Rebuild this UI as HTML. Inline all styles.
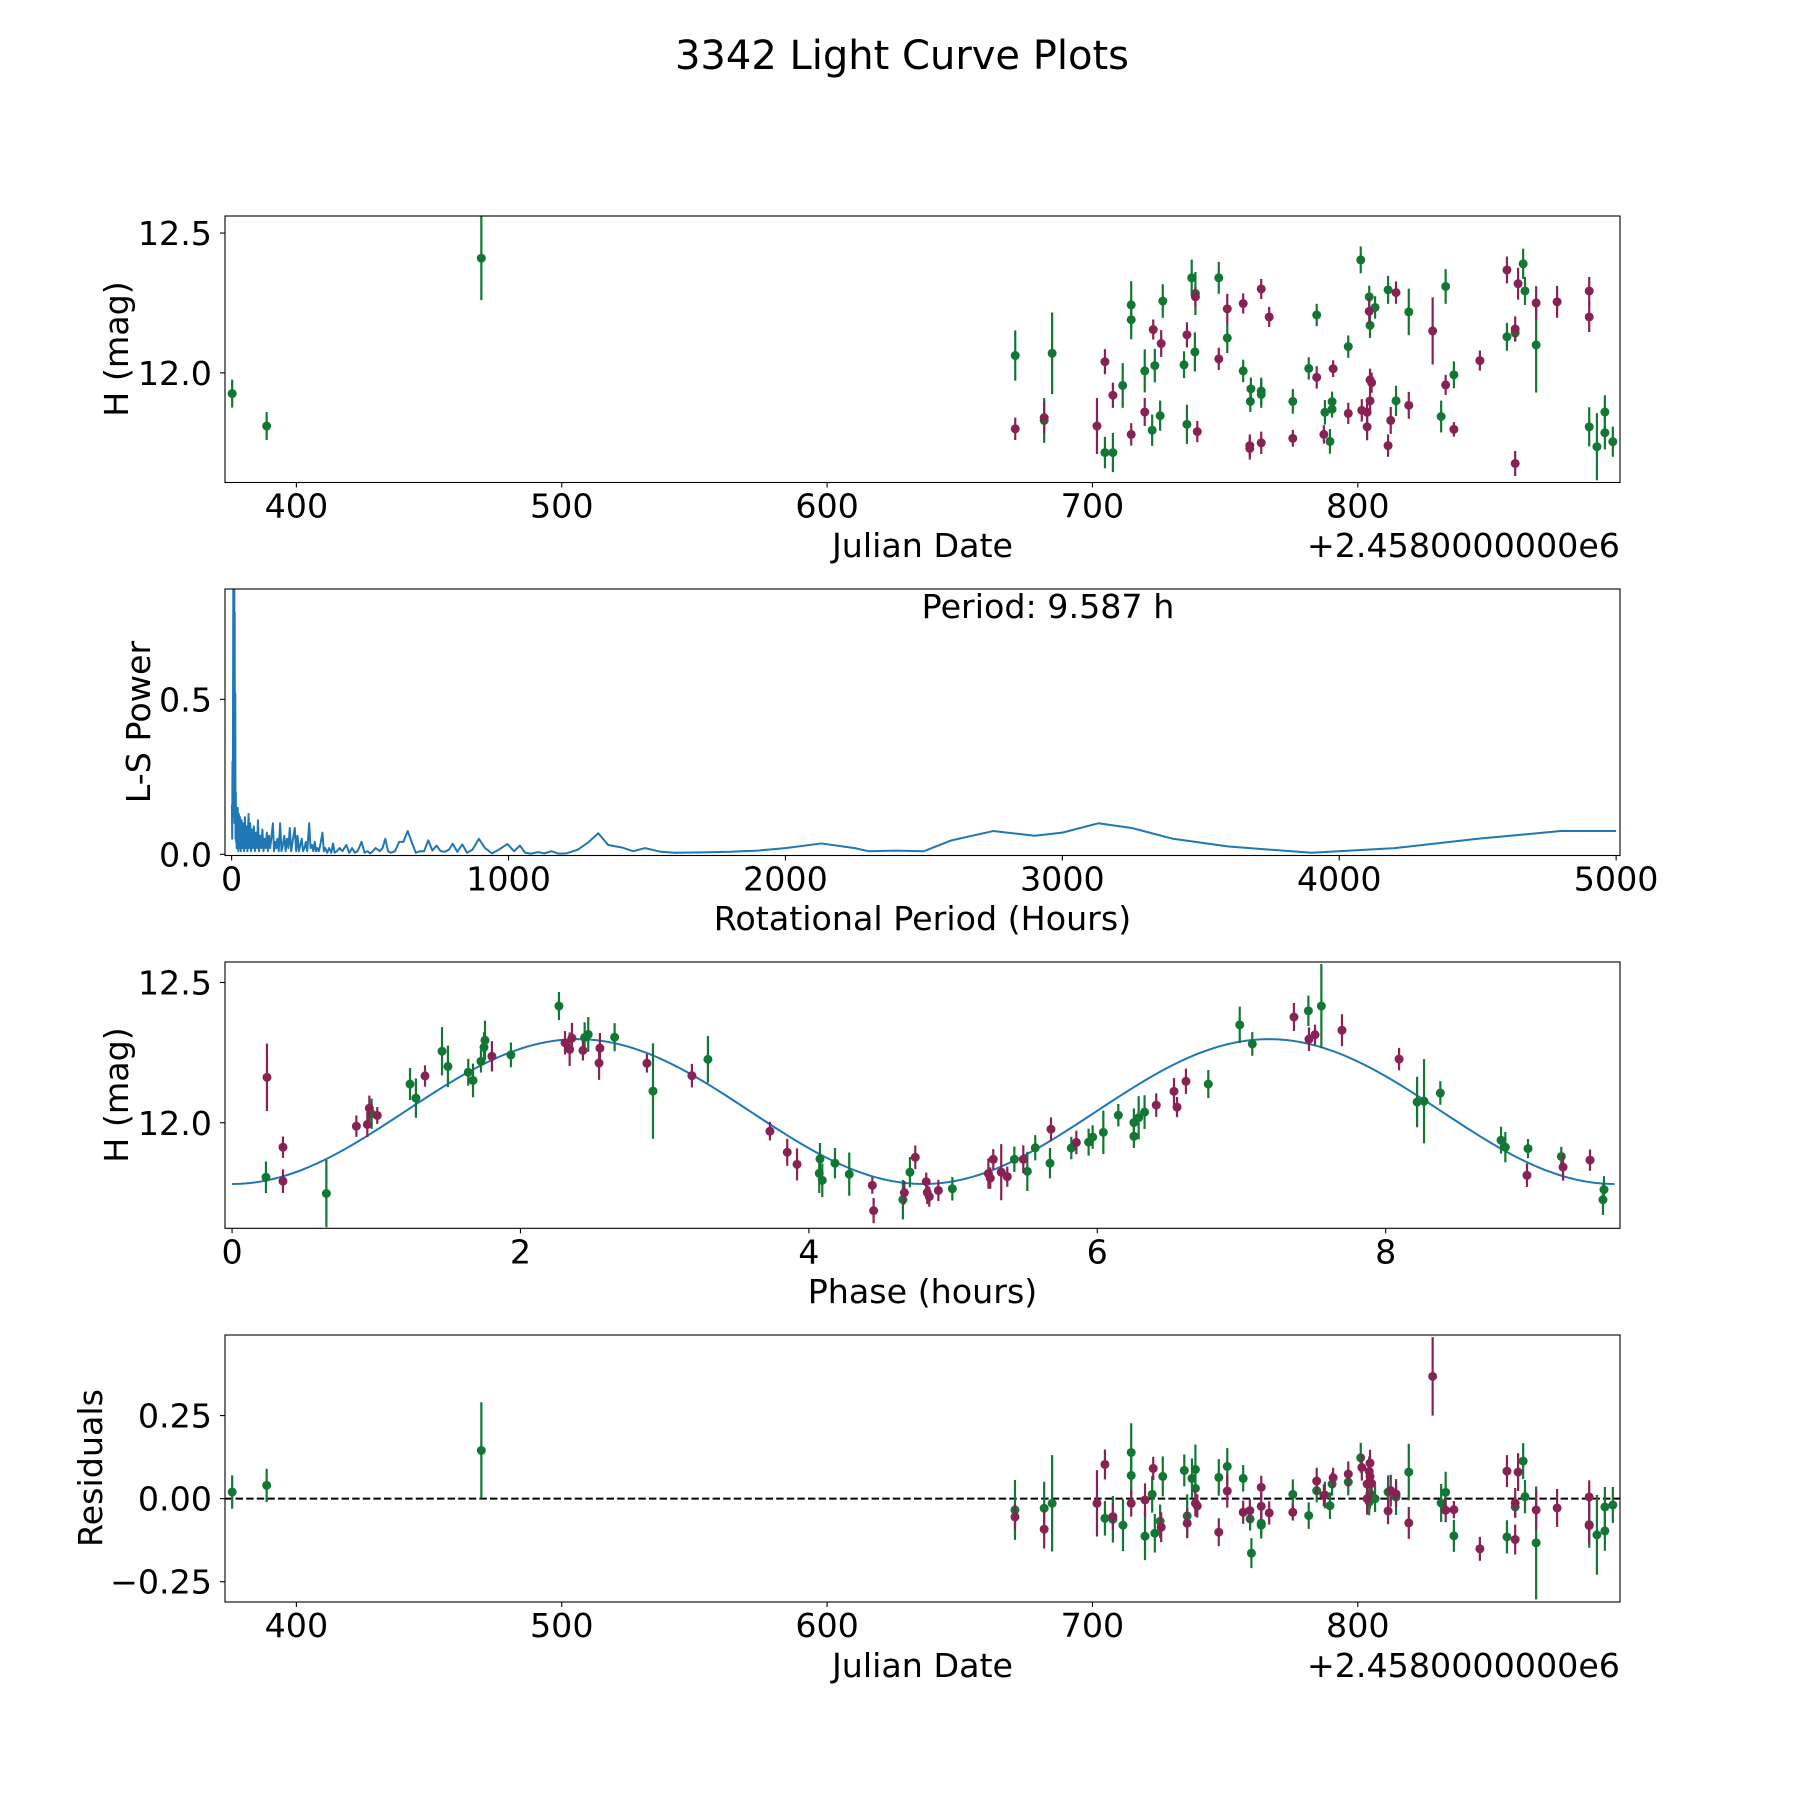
<!DOCTYPE html>
<html><head><meta charset="utf-8"><style>
html,body{margin:0;padding:0;background:#fff;}
svg{display:block;font-family:"DejaVu Sans","Liberation Sans",sans-serif;}
</style></head><body>
<svg id="fig" width="1800" height="1800" viewBox="0 0 1800 1800" xmlns="http://www.w3.org/2000/svg">
<rect x="0" y="0" width="1800" height="1800" fill="#fff"/>
<text x="902" y="69" font-size="40" text-anchor="middle">3342 Light Curve Plots</text>
</svg>
<script>
// ---------- DATA ----------
const lcGreen = [[375.8,11.926,0.05],[388.8,11.81,0.05],[469.7,12.41,0.15],[670.9,12.062,0.09],[681.8,11.83,0.08],[684.8,12.07,0.146],[704.7,11.715,0.056],[707.7,11.715,0.07],[711.4,11.955,0.08],[714.6,12.243,0.085],[714.6,12.19,0.07],[719.7,12.007,0.077],[722.5,11.795,0.056],[723.5,12.026,0.06],[725.5,11.847,0.054],[726.5,12.257,0.06],[734.5,12.029,0.048],[735.6,11.816,0.07],[737.4,12.34,0.065],[738.8,12.284,0.077],[738.6,12.075,0.07],[747.6,12.34,0.057],[750.8,12.125,0.054],[756.8,12.007,0.04],[759.7,11.943,0.04],[759.5,11.898,0.038],[763.6,11.935,0.048],[763.6,11.923,0.048],[775.5,11.898,0.044],[781.5,12.016,0.04],[784.5,12.207,0.04],[787.6,11.859,0.044],[789.5,11.755,0.044],[790.3,11.897,0.036],[790.3,11.87,0.03],[796.4,12.094,0.04],[801.1,12.404,0.048],[804.3,12.272,0.04],[804.6,12.17,0.045],[806.5,12.234,0.04],[811.4,12.297,0.05],[814.4,11.90,0.054],[819.2,12.218,0.083],[831.4,11.844,0.057],[833.1,12.309,0.062],[836.2,11.993,0.048],[856.2,12.129,0.05],[859.3,12.143,0.03],[862.3,12.39,0.054],[863.0,12.293,0.05],[867.2,12.10,0.17],[887.2,11.807,0.07],[890.1,11.736,0.12],[893.1,11.86,0.06],[893.1,11.786,0.06],[896.1,11.754,0.054]];
const lcMagenta = [[670.9,11.80,0.04],[681.8,11.84,0.057],[701.7,11.81,0.1],[704.7,12.04,0.045],[707.7,11.92,0.045],[714.6,11.78,0.04],[719.7,11.86,0.05],[722.9,12.155,0.036],[725.9,12.105,0.048],[735.6,12.136,0.045],[739.5,11.79,0.038],[738.8,12.272,0.036],[747.6,12.05,0.04],[750.8,12.229,0.054],[756.8,12.248,0.036],[759.3,11.73,0.04],[759.3,11.74,0.04],[763.6,12.30,0.036],[763.6,11.75,0.04],[766.6,12.20,0.036],[775.5,11.766,0.03],[784.5,11.984,0.04],[787.2,11.78,0.033],[790.7,12.015,0.03],[796.4,11.855,0.038],[801.5,11.866,0.04],[803.5,11.859,0.04],[803.5,11.807,0.048],[804.3,12.22,0.045],[804.6,11.975,0.04],[805.2,11.965,0.036],[804.6,11.90,0.04],[811.4,11.74,0.04],[812.4,11.83,0.048],[814.4,12.287,0.04],[819.2,11.884,0.048],[828.2,12.15,0.12],[833.1,11.957,0.036],[836.2,11.798,0.026],[846.0,12.044,0.036],[856.2,12.368,0.048],[859.3,12.157,0.045],[859.3,11.676,0.045],[860.4,12.319,0.057],[867.2,12.25,0.06],[875.1,12.254,0.057],[887.2,12.293,0.05],[887.2,12.20,0.054]];

const lsPeriod = [
1,2,3,4,5,6,7,8,9,9.587,
10.5,11,12,13,14,15,16,17,18,19,
20,22,24,26,28,30,33,36,39,42,
45,48,51,54,57,61,64,67,70,73,
76,80,84,88,92,95,99,103,107,111,
115,119,123,127,131,135,139,143,149,153,
157,161,165,170,175,180,185,190,195,200,
205,210,215,220,228,233,238,243,248,253,
258,263,268,273,280,285,290,295,300,305,
310,315,320,328,333,338,345,352,360,366,
372,380,390,400,414,425,435,445,455,469,
480,490,500,510,520,535,545,555,565,575,
590,605,620,636,650,665,680,695,710,725,
740,755,770,785,798,815,833,850,870,893,
915,940,965,996,1020,1041,1060,1080,1107,1130,
1155,1180,1210,1250,1290,1324,1360,1409,1450,1493,
1550,1600,1700,1800,1900,2000,2130,2250,2300,2400,
2500,2600,2750,2900,3000,3130,3250,3400,3600,3900,
4200,4500,4800,5000];
const lsPower = [
0.16,0.05,0.3,0.1,0.45,0.9,0.12,0.6,0.3,0.95,
0.2,0.78,0.1,0.52,0.05,0.2,0.04,0.15,0.02,0.13,
0.03,0.15,0.01,0.13,0.02,0.12,0.01,0.11,0.02,0.1,
0.01,0.12,0.02,0.09,0.01,0.13,0.02,0.1,0.01,0.08,
0.02,0.09,0.01,0.07,0.02,0.11,0.01,0.06,0.02,0.08,
0.01,0.05,0.02,0.07,0.01,0.06,0.02,0.05,0.1,0.01,
0.04,0.02,0.05,0.01,0.1,0.01,0.03,0.06,0.01,0.05,
0.02,0.085,0.01,0.04,0.085,0.01,0.06,0.01,0.03,0.05,
0.01,0.02,0.04,0.01,0.1,0.02,0.03,0.01,0.04,0.01,
0.02,0.01,0.03,0.07,0.01,0.02,0.005,0.02,0.005,0.035,
0.005,0.01,0.02,0.01,0.03,0.005,0.02,0.005,0.01,0.04,
0.005,0.01,0.003,0.01,0.02,0.01,0.02,0.05,0.01,0.005,
0.01,0.04,0.04,0.075,0.04,0.005,0.01,0.01,0.045,0.012,
0.028,0.01,0.008,0.015,0.034,0.008,0.032,0.005,0.015,0.05,
0.02,0.003,0.015,0.033,0.01,0.028,0.005,0.002,0.007,0.003,
0.01,0.002,0.003,0.015,0.04,0.068,0.03,0.022,0.01,0.02,
0.008,0.005,0.006,0.008,0.012,0.02,0.035,0.02,0.01,0.012,
0.01,0.045,0.075,0.06,0.07,0.1,0.085,0.05,0.025,0.005,
0.02,0.05,0.075,0.075];
const bestPeriodLabel = "Period: 9.587 h";

const phGreen = [[0.235,11.806,0.056],[0.654,11.748,0.12],[0.968,12.032,0.054],[1.234,12.138,0.057],[1.275,12.088,0.07],[1.456,12.255,0.086],[1.497,12.201,0.074],[1.638,12.18,0.048],[1.671,12.151,0.06],[1.726,12.219,0.04],[1.747,12.269,0.054],[1.754,12.294,0.07],[1.934,12.242,0.044],[2.267,12.416,0.05],[2.445,12.304,0.054],[2.47,12.315,0.062],[2.653,12.305,0.05],[2.919,12.113,0.17],[3.3,12.226,0.083],[4.077,11.871,0.057],[4.072,11.82,0.07],[4.093,11.795,0.06],[4.181,11.856,0.054],[4.28,11.817,0.077],[4.652,11.726,0.07],[4.701,11.824,0.054],[4.995,11.765,0.042],[5.425,11.87,0.045],[5.515,11.827,0.07],[5.57,11.911,0.045],[5.672,11.856,0.054],[5.82,11.91,0.04],[5.94,11.931,0.048],[5.968,11.949,0.042],[6.042,11.966,0.077],[6.146,12.027,0.04],[6.254,12.001,0.05],[6.254,11.952,0.042],[6.287,12.018,0.077],[6.328,12.038,0.06],[6.77,12.138,0.05],[6.988,12.349,0.065],[7.075,12.281,0.042],[7.464,12.399,0.054],[7.554,12.416,0.15],[8.218,12.074,0.09],[8.266,12.077,0.15],[8.379,12.106,0.042],[8.8,11.938,0.048],[8.83,11.913,0.054],[8.987,11.908,0.034],[9.218,11.88,0.034],[9.514,11.762,0.048],[9.507,11.726,0.054]];
const phMagenta = [[0.242,12.162,0.12],[0.353,11.913,0.038],[0.353,11.792,0.042],[0.862,11.988,0.038],[0.938,11.994,0.045],[0.952,12.052,0.045],[1.007,12.026,0.03],[1.338,12.167,0.038],[1.802,12.237,0.054],[2.309,12.285,0.042],[2.341,12.262,0.06],[2.357,12.302,0.054],[2.433,12.258,0.036],[2.551,12.266,0.054],[2.545,12.213,0.06],[2.877,12.212,0.033],[3.189,12.168,0.042],[3.73,11.97,0.033],[3.85,11.895,0.048],[3.918,11.852,0.057],[4.44,11.777,0.03],[4.449,11.687,0.045],[4.662,11.751,0.042],[4.738,11.877,0.042],[4.814,11.79,0.033],[4.821,11.752,0.042],[4.835,11.737,0.036],[4.898,11.759,0.038],[5.245,11.819,0.054],[5.258,11.803,0.038],[5.279,11.87,0.036],[5.334,11.824,0.1],[5.376,11.808,0.036],[5.487,11.87,0.05],[5.679,11.977,0.042],[5.855,11.93,0.042],[6.409,12.063,0.042],[6.532,12.112,0.048],[6.553,12.056,0.036],[6.615,12.148,0.045],[7.364,12.377,0.05],[7.468,12.298,0.042],[7.51,12.314,0.036],[7.697,12.33,0.057],[8.093,12.227,0.04],[8.98,11.813,0.042],[9.23,11.842,0.048],[9.417,11.867,0.038]];
const modelMean = 12.04;
const modelAmp = 0.258;
const modelPeriod = 9.587;

const resGreen = [[375.8,0.02,0.05],[388.8,0.04,0.05],[469.7,0.145,0.145],[670.8,-0.034,0.09],[681.8,-0.029,0.08],[684.8,-0.014,0.145],[704.7,-0.059,0.052],[707.7,-0.062,0.07],[711.5,-0.08,0.078],[714.6,0.139,0.088],[714.6,0.07,0.06],[719.8,-0.113,0.072],[722.5,0.013,0.055],[723.5,-0.104,0.058],[725.5,-0.068,0.05],[726.5,0.067,0.06],[734.6,0.085,0.048],[735.7,-0.052,0.065],[737.5,0.061,0.06],[738.8,0.088,0.075],[738.8,0.031,0.06],[747.6,0.064,0.055],[750.8,0.097,0.055],[756.8,0.061,0.04],[759.4,-0.061,0.035],[759.9,-0.164,0.045],[763.6,-0.074,0.04],[763.6,-0.08,0.04],[775.5,0.013,0.045],[781.5,-0.051,0.04],[784.5,0.024,0.035],[787.6,0.011,0.04],[789.5,-0.021,0.04],[790.3,0.044,0.035],[796.4,0.05,0.04],[801.1,0.123,0.045],[804.3,-0.01,0.04],[804.6,0.015,0.045],[806.5,0.0,0.04],[811.4,0.02,0.05],[814.4,0.005,0.054],[819.2,0.08,0.085],[831.4,-0.013,0.057],[833.1,0.019,0.062],[836.2,-0.112,0.048],[856.2,-0.115,0.05],[859.3,-0.025,0.03],[862.3,0.113,0.054],[863,0.006,0.05],[867.2,-0.133,0.17],[887.2,-0.078,0.07],[890.1,-0.109,0.12],[893.1,-0.025,0.06],[893.1,-0.097,0.06],[896.1,-0.019,0.054]];
const resMagenta = [[670.8,-0.055,0.04],[681.8,-0.092,0.058],[701.7,-0.014,0.1],[704.7,0.103,0.045],[707.7,-0.054,0.04],[714.6,-0.014,0.04],[719.8,-0.004,0.05],[722.9,0.091,0.035],[725.9,-0.086,0.045],[735.7,-0.074,0.045],[738.8,-0.014,0.04],[739.5,-0.022,0.035],[747.6,-0.101,0.042],[750.8,0.023,0.05],[756.8,-0.041,0.035],[759.3,-0.036,0.035],[763.6,0.034,0.035],[763.6,-0.023,0.04],[766.6,-0.043,0.035],[775.5,-0.041,0.025],[784.5,0.053,0.04],[787.2,0.01,0.033],[790.7,0.063,0.03],[796.4,0.074,0.038],[801.5,0.094,0.04],[803.5,0.044,0.04],[803.5,0.0,0.048],[804.3,0.082,0.045],[804.6,0.107,0.04],[804.6,0.067,0.036],[805.2,0.046,0.04],[811.4,-0.037,0.04],[812.4,0.024,0.048],[814.4,0.014,0.04],[819.2,-0.073,0.048],[828.2,0.368,0.118],[833.1,-0.035,0.036],[836.2,-0.033,0.026],[846,-0.151,0.036],[856.2,0.083,0.048],[859.3,-0.013,0.045],[859.3,-0.123,0.045],[860.4,0.08,0.057],[867.2,-0.034,0.06],[875.1,-0.028,0.057],[887.2,0.005,0.05],[887.2,-0.081,0.054]];

const jdTicks = [400,500,600,700,800];
const magTicks = [12.5,12.0];
const lsXTicks = [0,1000,2000,3000,4000,5000];
const lsYTicks = [0.0,0.5];
const phTicks = [0,2,4,6,8];
const resTicks = [0.25,0.00,-0.25];

// ---------- DRAWING ----------
const NS = "http://www.w3.org/2000/svg";
const svg = document.getElementById('fig');
const GREEN = "#117733", MAG = "#882255", BLUE = "#1f77b4";
const L = 225, R = 1620, FS = 33.3;
function mk(tag, attrs, parent) {
  const e = document.createElementNS(NS, tag);
  for (const k in attrs) e.setAttribute(k, attrs[k]);
  (parent || svg).appendChild(e);
  return e;
}
function scale(d0, d1, r0, r1) { return v => r0 + (v - d0) / (d1 - d0) * (r1 - r0); }

function makeAxes(name, top, bot, xd, yd) {
  const g = mk('g', {});
  
  
  const cid = 'clip-' + name;
  const cp = mk('clipPath', {id: cid}, g);
  mk('rect', {x: L, y: top, width: R - L, height: bot - top}, cp);
  const plot = mk('g', {'clip-path': 'url(#' + cid + ')'}, g);
  
  
  return {g, plot, top, bot, x: scale(xd[0], xd[1], L, R), y: scale(yd[0], yd[1], bot, top)};
}
function frame(ax, name) {
  const r = mk('rect', {x: L, y: ax.top, width: R - L, height: ax.bot - ax.top, fill: 'none', stroke: '#000', 'stroke-width': 1.1}, ax.g);
  
  
}
function xTicks(ax, ticks, fmt, name) {
  ticks.forEach(t => {
    const px = ax.x(t);
    const tk = mk('line', {x1: px, x2: px, y1: ax.bot, y2: ax.bot + 5, stroke: '#000', 'stroke-width': 1.1}, ax.g);
    
    
    const tx = mk('text', {x: px, y: ax.bot + 35, 'font-size': FS, 'text-anchor': 'middle'}, ax.g);
    tx.textContent = fmt(t);
    
    
  });
}
function yTicks(ax, ticks, fmt, name) {
  ticks.forEach(t => {
    const py = ax.y(t);
    const tk = mk('line', {x1: L - 5, x2: L, y1: py, y2: py, stroke: '#000', 'stroke-width': 1.1}, ax.g);
    
    
    const tx = mk('text', {x: 212, y: py + 12, 'font-size': FS, 'text-anchor': 'end'}, ax.g);
    tx.textContent = fmt(t);
    
    
  });
}
function label(ax, txt, x, y, rot, name, anchor) {
  const t = mk('text', {x: x, y: y, 'font-size': FS, 'text-anchor': anchor || 'middle'}, ax.g);
  if (rot) t.setAttribute('transform', 'rotate(-90 ' + x + ' ' + y + ')');
  t.textContent = txt;
  
  
}
function errPoints(ax, pts, color, name) {
  pts.forEach(p => {
    const px = ax.x(p[0]);
    const eb = mk('line', {x1: px, x2: px, y1: ax.y(p[1] - p[2]), y2: ax.y(p[1] + p[2]), stroke: color, 'stroke-width': 2.2}, ax.plot);
    
    
    const c = mk('circle', {cx: px, cy: ax.y(p[1]), r: 4.5, fill: color}, ax.plot);
    
    
  });
}
const f1 = v => v.toFixed(1), f2 = v => (v < 0 ? '\u2212' : '') + Math.abs(v).toFixed(2), f0 = v => String(v);

// Panel 1: light curve vs JD
const jdDomain = [373.1, 898.8];
const a1 = makeAxes('light-curve-panel', 216, 482.5, jdDomain, [11.608, 12.561]);
errPoints(a1, lcGreen, GREEN, 'green-filter');
errPoints(a1, lcMagenta, MAG, 'magenta-filter');
frame(a1, 'light-curve');
xTicks(a1, jdTicks, f0, 'light-curve');
yTicks(a1, magTicks, f1, 'light-curve');
label(a1, 'Julian Date', 922.5, 557, false, 'light-curve-x-axis-title');
label(a1, '+2.4580000000e6', 1620, 557, false, 'light-curve-x-offset-text', 'end');
label(a1, 'H (mag)', 128, 349, true, 'light-curve-y-axis-title');

// Panel 2: periodogram
const a2 = makeAxes('periodogram-panel', 589, 855.5, [-24, 5014], [-0.0039, 0.856]);
{
  let d = '';
  const n = Math.min(lsPeriod.length, lsPower.length);
  for (let i = 0; i < n; i++) { d += (i ? 'L' : 'M') + a2.x(lsPeriod[i]).toFixed(2) + ' ' + a2.y(lsPower[i]).toFixed(2); }
  const pl = mk('path', {d: d, fill: 'none', stroke: BLUE, 'stroke-width': 2, 'stroke-linejoin': 'round'}, a2.plot);
  
  
}
frame(a2, 'periodogram');
xTicks(a2, lsXTicks, f0, 'periodogram');
yTicks(a2, lsYTicks, f1, 'periodogram');
label(a2, 'Rotational Period (Hours)', 922.5, 930, false, 'periodogram-x-axis-title');
label(a2, 'L-S Power', 150, 722, true, 'periodogram-y-axis-title');
label(a2, bestPeriodLabel, 1048, 618, false, 'best-period-annotation');

// Panel 3: phase folded
const a3 = makeAxes('phase-panel', 962, 1228.3, [-0.049, 9.625], [11.624, 12.573]);
{
  let d = '';
  for (let i = 0; i <= 300; i++) {
    const p = modelPeriod * i / 300;
    const m = modelMean - modelAmp * Math.cos(4 * Math.PI * p / modelPeriod);
    d += (i ? 'L' : 'M') + a3.x(p).toFixed(2) + ' ' + a3.y(m).toFixed(2);
  }
  const ml = mk('path', {d: d, fill: 'none', stroke: BLUE, 'stroke-width': 2}, a3.plot);
  
  
}
errPoints(a3, phGreen, GREEN, 'phase-green');
errPoints(a3, phMagenta, MAG, 'phase-magenta');
frame(a3, 'phase');
xTicks(a3, phTicks, f0, 'phase');
yTicks(a3, magTicks, f1, 'phase');
label(a3, 'Phase (hours)', 922.5, 1303, false, 'phase-x-axis-title');
label(a3, 'H (mag)', 128, 1095, true, 'phase-y-axis-title');

// Panel 4: residuals
const a4 = makeAxes('residuals-panel', 1335, 1602, jdDomain, [-0.311, 0.4925]);
{
  const z = mk('line', {x1: L, x2: R, y1: a4.y(0), y2: a4.y(0), stroke: '#000', 'stroke-width': 2, 'stroke-dasharray': '7.4,3.2'}, a4.plot);
  
  
}
errPoints(a4, resGreen, GREEN, 'residual-green');
errPoints(a4, resMagenta, MAG, 'residual-magenta');
frame(a4, 'residuals');
xTicks(a4, jdTicks, f0, 'residuals');
yTicks(a4, resTicks, f2, 'residuals');
label(a4, 'Julian Date', 922.5, 1677, false, 'residuals-x-axis-title');
label(a4, '+2.4580000000e6', 1620, 1677, false, 'residuals-x-offset-text', 'end');
label(a4, 'Residuals', 102, 1468, true, 'residuals-y-axis-title');
</script>
</body></html>
